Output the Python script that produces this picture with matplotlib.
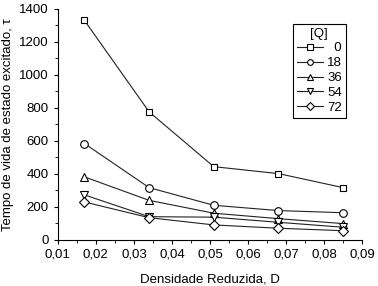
import numpy as np
import matplotlib.pyplot as plt
from matplotlib.ticker import MultipleLocator, FuncFormatter

plt.rcParams.update({
    'font.family': 'Liberation Sans',
    'font.size': 9.5,
})

# dados
D = [0.017, 0.034, 0.051, 0.068, 0.085]
concentracoes = ['  0', '18', '36', '54', '72']
tau_0 = [1330, 776, 444, 402, 317]
tau_18 = [584, 317, 210, 178, 165]
tau_36 = [382, 240, 162, 129, 99]
tau_54 = [273, 141, 138, 107, 77]
tau_72 = [230, 135, 91, 71, 56]

series = [tau_0, tau_18, tau_36, tau_54, tau_72]
marcadores = ['s', 'o', '^', 'v', 'D']
tamanhos = [5.0, 5.5, 6.0, 6.0, 5.0]

fig = plt.figure(figsize=(3.78, 2.86), dpi=100)
ax = fig.add_axes([0.153, 0.161, 0.805, 0.808])

for y, m, ms, lab in zip(series, marcadores, tamanhos, concentracoes):
    ax.plot(D, y, marker=m, markersize=ms, markerfacecolor='white',
            markeredgecolor='black', markeredgewidth=0.8,
            color='#222222', linewidth=0.8, label=lab)

ax.set_xlim(0.01, 0.09)
ax.set_ylim(0, 1400)
ax.xaxis.set_major_locator(MultipleLocator(0.01))
ax.xaxis.set_minor_locator(MultipleLocator(0.005))
ax.yaxis.set_major_locator(MultipleLocator(200))
ax.yaxis.set_minor_locator(MultipleLocator(100))
ax.xaxis.set_major_formatter(FuncFormatter(lambda v, p: f'{v:.2f}'.replace('.', ',')))

for s in ['top', 'right']:
    ax.spines[s].set_visible(False)
ax.tick_params(which='major', direction='out', length=3, width=0.8)
ax.tick_params(which='minor', direction='out', length=2, width=0.6)

ax.set_xlabel('Densidade Reduzida, D', labelpad=9)
ax.set_ylabel('Tempo de vida de estado excitado, τ', labelpad=4)

leg = ax.legend(title='[Q]', loc='upper left', bbox_to_anchor=(0.75, 0.965),
                fontsize=9.5, title_fontsize=9.5, handlelength=2.0,
                handletextpad=0.3, borderpad=0.3, labelspacing=0.2,
                fancybox=False, edgecolor='black', framealpha=1,
                markerscale=0.75)
leg.get_frame().set_linewidth(0.8)

plt.savefig('out.png', dpi=100)
